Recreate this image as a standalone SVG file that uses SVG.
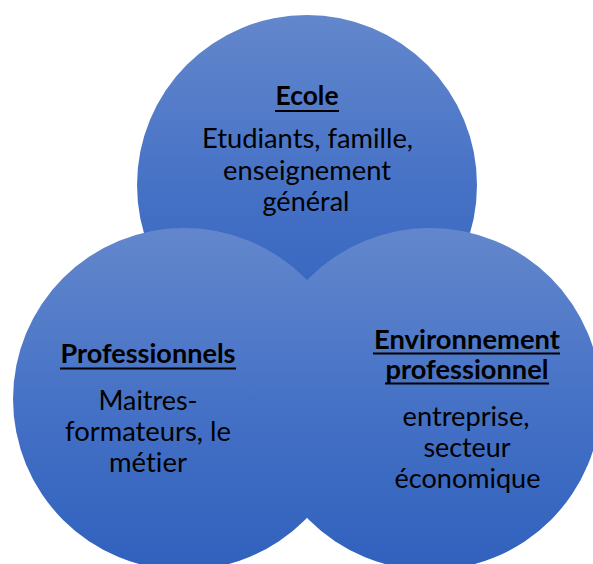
<svg xmlns="http://www.w3.org/2000/svg" width="593" height="564" viewBox="0 0 593 564">
  <defs>
    <linearGradient id="blueGrad" x1="0" y1="0" x2="0" y2="1">
      <stop offset="0" stop-color="#6387CC"/>
      <stop offset="0.5" stop-color="#4672C6"/>
      <stop offset="1" stop-color="#3061BD"/>
    </linearGradient>
  </defs>
  <style>
    .circle { fill: url(#blueGrad); stroke: none; }
    .title { font-family: Lato, "Liberation Sans", sans-serif; font-weight: bold; font-size: 27px; fill: #000000; text-anchor: middle; font-variant-ligatures: none; }
    .body { font-family: Lato, "Liberation Sans", sans-serif; font-size: 27px; fill: #000000; text-anchor: middle; font-variant-ligatures: none; }
    .ul { stroke: #000000; stroke-width: 2; }
  </style>
  <rect x="0" y="0" width="593" height="564" fill="#FFFFFF"/>

  <g id="node-ecole">
    <circle class="circle" cx="307" cy="185" r="170"/>
    <text class="title" x="307" y="105" textLength="63" lengthAdjust="spacingAndGlyphs">Ecole</text>
    <line class="ul" x1="275" y1="111" x2="339" y2="111"/>
    <text class="body" x="307.5" y="148" textLength="211" lengthAdjust="spacingAndGlyphs">Etudiants, famille,</text>
    <text class="body" x="307" y="180" textLength="168" lengthAdjust="spacingAndGlyphs">enseignement</text>
    <text class="body" x="306" y="211" textLength="87" lengthAdjust="spacingAndGlyphs">général</text>
  </g>

  <g id="node-professionnels">
    <circle class="circle" cx="184" cy="399" r="171"/>
    <text class="title" x="148" y="363" textLength="175" lengthAdjust="spacingAndGlyphs">Professionnels</text>
    <line class="ul" x1="60" y1="368.5" x2="236" y2="368.5"/>
    <text class="body" x="148" y="410" textLength="99" lengthAdjust="spacingAndGlyphs">Maitres-</text>
    <text class="body" x="148" y="441" textLength="166" lengthAdjust="spacingAndGlyphs">formateurs, le</text>
    <text class="body" x="148" y="472" textLength="78" lengthAdjust="spacingAndGlyphs">métier</text>
  </g>

  <g id="node-environnement">
    <circle class="circle" cx="430" cy="399" r="171"/>
    <text class="title" x="467" y="348.5" textLength="186" lengthAdjust="spacingAndGlyphs">Environnement</text>
    <line class="ul" x1="373" y1="353.5" x2="560" y2="353.5"/>
    <text class="title" x="467" y="378.5" textLength="163" lengthAdjust="spacingAndGlyphs">professionnel</text>
    <line class="ul" x1="385" y1="383.5" x2="549" y2="383.5"/>
    <text class="body" x="466" y="426" textLength="127" lengthAdjust="spacingAndGlyphs">entreprise,</text>
    <text class="body" x="467" y="457" textLength="87" lengthAdjust="spacingAndGlyphs">secteur</text>
    <text class="body" x="467.5" y="488" textLength="146" lengthAdjust="spacingAndGlyphs">économique</text>
  </g>
</svg>
